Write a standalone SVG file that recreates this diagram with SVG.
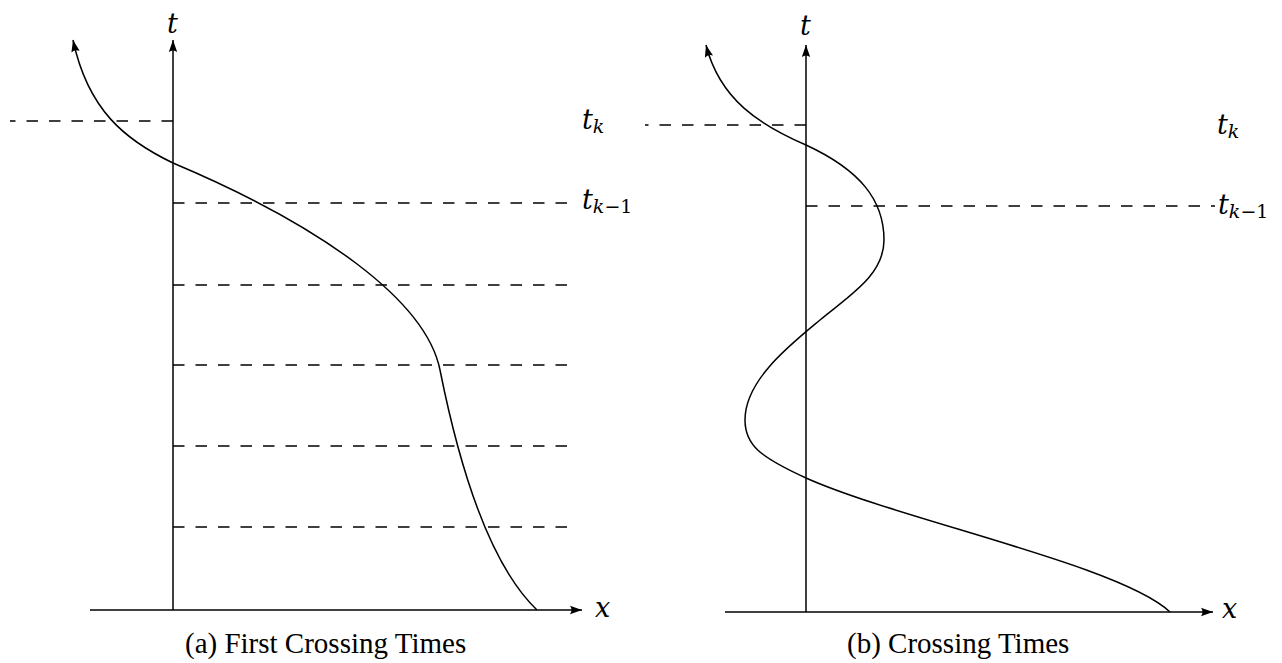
<svg xmlns="http://www.w3.org/2000/svg" width="1282" height="663" viewBox="0 0 1282 663">
<style>
.ax{stroke:#000;stroke-width:1.5;fill:none}
.cv{stroke:#000;stroke-width:1.5;fill:none}
.ds{stroke:#000;stroke-width:1.3;fill:none;stroke-dasharray:11.5 11}
.m{font-family:"DejaVu Serif","Liberation Serif",serif;font-style:italic;font-size:27px;fill:#000}
.sub{font-size:19px}
.up{font-style:normal}
.cap{font-family:"Liberation Serif",serif;font-size:29px;fill:#000}
</style>
<defs>
<marker id="ah" markerUnits="userSpaceOnUse" markerWidth="14" markerHeight="10" refX="12" refY="5" orient="auto" overflow="visible">
<path d="M0,0.8 Q3,5 0,9.2 L12,5 Z" fill="#000"/>
</marker>
</defs>
<g id="panel-a">
<g id="axes-a">
<line class="ax" x1="173" y1="610" x2="173" y2="40" marker-end="url(#ah)"/>
<line class="ax" x1="90" y1="610" x2="582" y2="610" marker-end="url(#ah)"/>
</g>
<g id="dashes-a">
<line class="ds" x1="173" y1="121" x2="10" y2="121"/>
<line class="ds" x1="173" y1="203" x2="567" y2="203"/>
<line class="ds" x1="173" y1="285" x2="567" y2="285"/>
<line class="ds" x1="173" y1="365" x2="567" y2="365"/>
<line class="ds" x1="173" y1="446" x2="567" y2="446"/>
<line class="ds" x1="173" y1="527" x2="567" y2="527"/>
</g>
<g id="curve-a">
<path class="cv" d="M537,610 C490,565 460,470 440,370 C426,300 320,225 173,163 C125,140 88,110 73,40" marker-end="url(#ah)"/>
</g>
<g id="labels-a">
<text class="m" x="167" y="33">t</text>
<text class="m" x="595" y="617">x</text>
<text class="m" x="582" y="129">t<tspan class="sub" dy="4">k</tspan></text>
<text class="m" x="582" y="209">t<tspan class="sub" dy="4">k</tspan><tspan class="sub up">−1</tspan></text>
<text class="cap" x="185" y="653">(a) First Crossing Times</text>
</g>
</g>
<g id="panel-b">
<g id="axes-b">
<line class="ax" x1="806" y1="612" x2="806" y2="45" marker-end="url(#ah)"/>
<line class="ax" x1="725" y1="612" x2="1213" y2="612" marker-end="url(#ah)"/>
</g>
<g id="dashes-b">
<line class="ds" x1="806" y1="125" x2="645" y2="125"/>
<line class="ds" x1="806" y1="206" x2="1215" y2="206"/>
</g>
<g id="curve-b">
<path class="cv" d="M1170,612 C1120,565 900,520 806,478 C760,457 745,445 745,420 C745,380 790,345 820,320 C850,295 884,275 884,240 C884,200 860,170 806,145 C760,125 720,100 706,45" marker-end="url(#ah)"/>
</g>
<g id="labels-b">
<text class="m" x="800" y="35">t</text>
<text class="m" x="1222" y="618">x</text>
<text class="m" x="1217" y="134">t<tspan class="sub" dy="4">k</tspan></text>
<text class="m" x="1218" y="214">t<tspan class="sub" dy="4">k</tspan><tspan class="sub up">−1</tspan></text>
<text class="cap" x="847" y="653">(b) Crossing Times</text>
</g>
</g>
</svg>
